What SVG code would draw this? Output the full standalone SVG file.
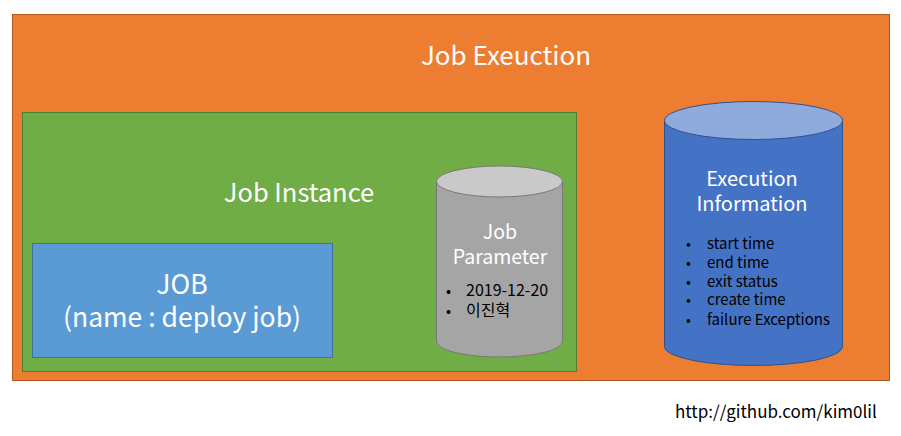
<svg xmlns="http://www.w3.org/2000/svg" width="901" height="436" viewBox="0 0 901 436">
<style>
text{font-family:"Noto Sans CJK KR","Noto Sans",sans-serif}
.w{fill:#fff}
.k{fill:#000}
.c{text-anchor:middle}
</style>
<rect width="901" height="436" fill="#fff"/>
<g id="job-execution">
<rect x="12.5" y="14.5" width="877" height="366" fill="#ED7D31" stroke="#AE5A21"/>
<text class="w c" x="506" y="65" font-size="26">Job Exeuction</text>
</g>
<g id="job-instance">
<rect x="22.5" y="112.5" width="554" height="259" fill="#70AD47" stroke="#507E32"/>
<text class="w c" x="299" y="202" font-size="25.5">Job Instance</text>
</g>
<g id="job">
<rect x="32.5" y="243.5" width="300" height="114" fill="#5B9BD5" stroke="#41719C"/>
<text class="w c" x="182" y="294" font-size="26.5">JOB</text>
<text class="w c" x="182" y="327" font-size="26.5">(name : deploy job)</text>
</g>
<g id="job-parameter">
<path d="M436.5,181.5 V341.5 A63,15.5 0 0 0 562.5,341.5 V181.5" fill="#A5A5A5" stroke="#787878"/>
<ellipse cx="499.5" cy="181.5" rx="63" ry="15.5" fill="#C9C9C9" stroke="#787878"/>
<text class="w c" x="500" y="239" font-size="19.5">Job</text>
<text class="w c" x="500" y="264" font-size="19.5">Parameter</text>
<text class="k" x="446" y="296" font-size="15">•</text>
<text class="k" x="466" y="296" font-size="16">2019-12-20</text>
<text class="k" x="446" y="316" font-size="15">•</text>
<text class="k" x="466" y="316" font-size="16">이진혁</text>
</g>
<g id="execution-information">
<path d="M664.5,120.5 V346.5 A89,19 0 0 0 842.5,346.5 V120.5" fill="#4472C4" stroke="#2F528F"/>
<ellipse cx="753.5" cy="120.5" rx="89" ry="19" fill="#8FAADC" stroke="#2F528F"/>
<text class="w c" x="752" y="186" font-size="20">Execution</text>
<text class="w c" x="752" y="211" font-size="20">Information</text>
<text class="k" x="686" y="249" font-size="14">•</text><text class="k" x="707" y="249" font-size="15">start time</text>
<text class="k" x="686" y="268" font-size="14">•</text><text class="k" x="707" y="268" font-size="15">end time</text>
<text class="k" x="686" y="287" font-size="14">•</text><text class="k" x="707" y="287" font-size="15">exit status</text>
<text class="k" x="686" y="305" font-size="14">•</text><text class="k" x="707" y="305" font-size="15">create time</text>
<text class="k" x="686" y="325" font-size="14">•</text><text class="k" x="707" y="325" font-size="15">failure Exceptions</text>
</g>
<g id="connectors"></g>
<text class="k" x="675" y="418" font-size="17">http://github.com/kim0lil</text>
</svg>
